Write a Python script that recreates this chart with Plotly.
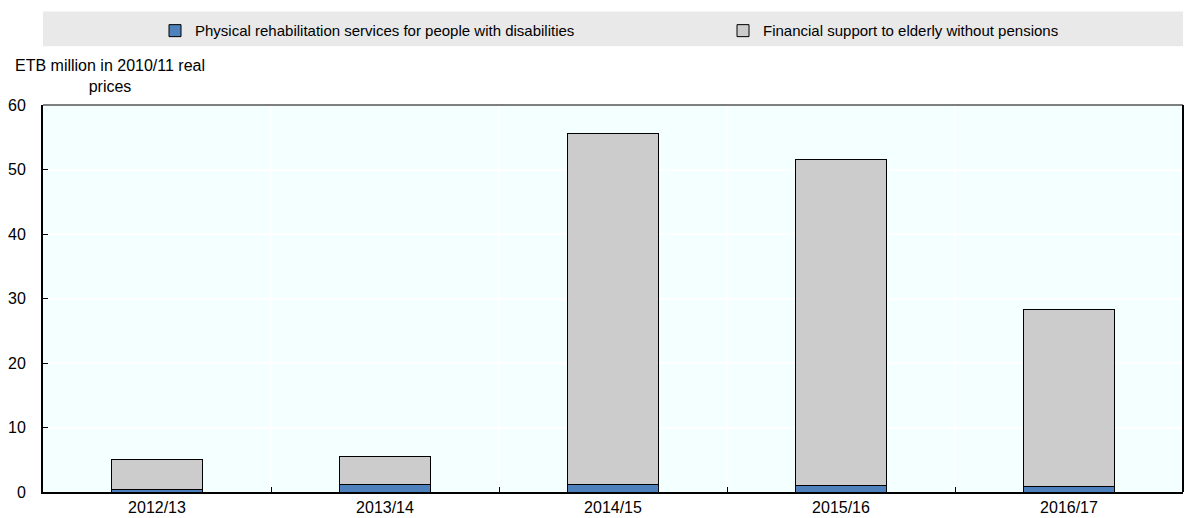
import plotly.graph_objects as go

categories = ["2012/13", "2013/14", "2014/15", "2015/16", "2016/17"]
rehab = [0.45, 1.15, 1.2, 1.05, 0.8]
elderly = [4.55, 4.4, 54.4, 50.55, 27.5]
series_names = ["Physical rehabilitation services for people with disabilities",
                "Financial support to elderly without pensions"]
y_title = "ETB million in 2010/11 real<br>prices"
y_ticks = [0, 10, 20, 30, 40, 50, 60]

FONT = "Liberation Sans, Arial, sans-serif"

fig = go.Figure()
fig.add_bar(x=categories, y=rehab, name=series_names[0], legend="legend",
            marker=dict(color="#4F81BD", line=dict(color="#000000", width=1)), width=0.4)
fig.add_bar(x=categories, y=elderly, name=series_names[1], legend="legend2",
            marker=dict(color="#CCCCCC", line=dict(color="#000000", width=1)), width=0.4)

W, H = 1185, 518
ml, mr, mt, mb = 43, 2, 105, 24
pw = W - ml - mr
ph = H - mt - mb

def px_x(x):
    return (x - ml) / pw

def px_y(y):
    return (H - mb - y) / ph

leg_common = dict(orientation="h", xanchor="left", yanchor="middle",
                  bgcolor="rgba(0,0,0,0)", font=dict(size=15, family=FONT),
                  itemclick=False, itemdoubleclick=False)

fig.update_layout(
    width=W, height=H,
    barmode="stack",
    margin=dict(l=ml, r=mr, t=mt, b=mb, pad=0),
    paper_bgcolor="white",
    plot_bgcolor="#F4FFFF",
    font=dict(family=FONT, size=16, color="#000000"),
    showlegend=True,
    legend=dict(x=px_x(155), y=px_y(30.5), **leg_common),
    legend2=dict(x=px_x(723), y=px_y(30.5), **leg_common),
    shapes=[
        dict(type="rect", xref="paper", yref="paper", x0=px_x(43), x1=px_x(1183),
             y0=px_y(46), y1=px_y(11), fillcolor="#E9E9E9", line=dict(width=0), layer="below"),
        dict(type="line", xref="paper", yref="paper", x0=0, x1=1, y0=1, y1=1,
             line=dict(color="#555555", width=1.5)),
        dict(type="line", xref="paper", yref="paper", x0=1, x1=1, y0=0, y1=1,
             line=dict(color="#000000", width=2)),
    ],
    annotations=[
        dict(text=y_title, xref="paper", yref="paper", x=px_x(110), y=px_y(76),
             xanchor="center", yanchor="middle", showarrow=False, align="center",
             font=dict(size=16, family=FONT)),
    ],
)

fig.update_xaxes(type="category", tickson="boundaries", ticks="inside", ticklen=5,
                 tickcolor="#000000", showgrid=True, gridcolor="white", gridwidth=1.5,
                 showline=True, linecolor="#000000", linewidth=2, mirror=False,
                 tickfont=dict(size=16, family=FONT))
fig.update_yaxes(range=[0, 60], tickvals=y_ticks, ticks="inside", ticklen=5,
                 tickcolor="#000000", showgrid=True, gridcolor="white", gridwidth=1.5,
                 showline=True, linecolor="#000000", linewidth=2, mirror=False,
                 zeroline=False, tickfont=dict(size=16, family=FONT), ticklabelstandoff=12)

fig.write_html("out.html", config={"displayModeBar": False},
               post_script="document.body.style.margin='0px';")
